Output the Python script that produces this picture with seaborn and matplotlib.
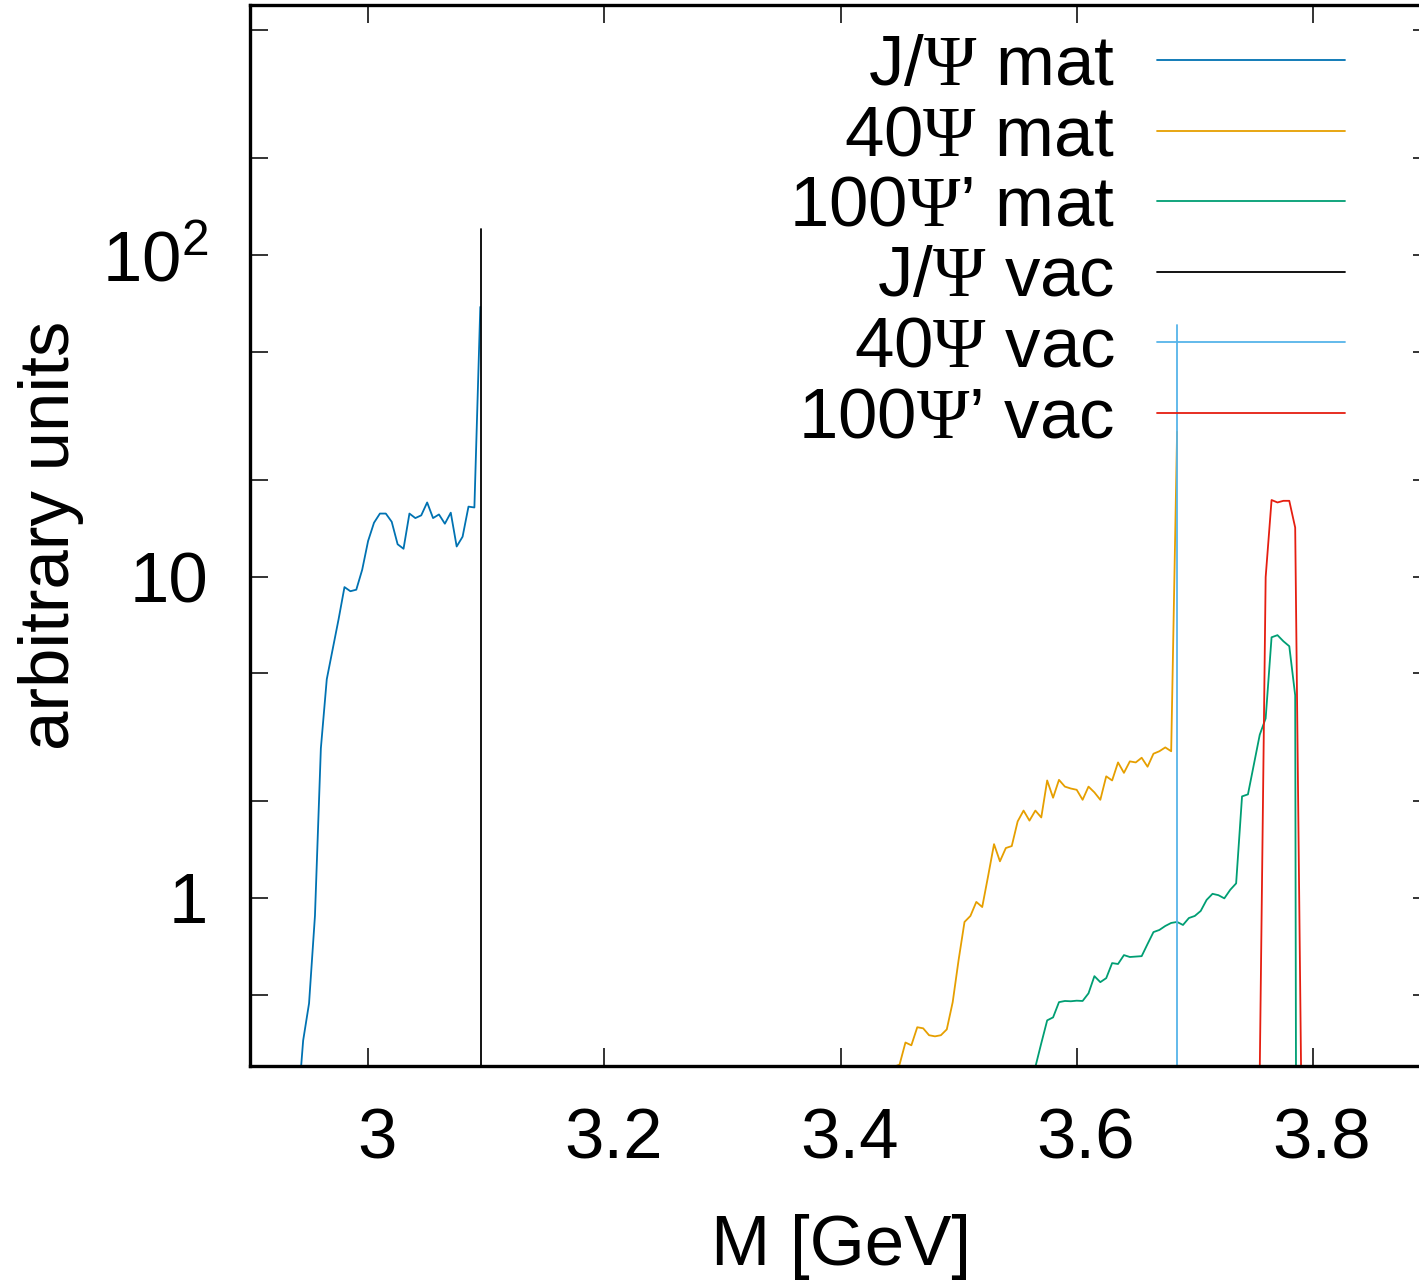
import numpy as np
import pandas as pd
import matplotlib
matplotlib.use("Agg")
import matplotlib.pyplot as plt
import seaborn as sns
from matplotlib.lines import Line2D
from matplotlib.ticker import FixedLocator, FixedFormatter, NullLocator
import matplotlib.transforms as mtransforms

# ---------------- data ----------------
series_names = ["J/$\\mathrm{\\Psi}$ mat", "40$\\mathrm{\\Psi}$ mat", "100$\\mathrm{\\Psi}$\u2019 mat",
                "J/$\\mathrm{\\Psi}$ vac", "40$\\mathrm{\\Psi}$ vac", "100$\\mathrm{\\Psi}$\u2019 vac"]
series_colors = ["#0072B2", "#E69F00", "#009E73", "#000000", "#56B4E9", "#E51E10"]

jpsi_mat_m = [2.940, 2.945, 2.950, 2.955, 2.960, 2.965, 2.970, 2.975, 2.980, 2.985,
              2.990, 2.995, 3.000, 3.005, 3.010, 3.015, 3.020, 3.025, 3.030, 3.035,
              3.040, 3.045, 3.050, 3.055, 3.060, 3.065, 3.070, 3.075, 3.080, 3.085,
              3.090, 3.095]
jpsi_mat_v = [0.21, 0.36, 0.47, 0.88, 2.92, 4.79, 5.94, 7.36, 9.27, 9.0,
              9.1, 10.5, 12.9, 14.7, 15.7, 15.7, 14.8, 12.6, 12.2, 15.7,
              15.2, 15.5, 17.0, 15.2, 15.6, 14.6, 15.8, 12.4, 13.3, 16.5,
              16.4, 69.0]

psi40_mat_m = [3.440, 3.445, 3.450, 3.455, 3.460, 3.465, 3.470, 3.475, 3.480, 3.485,
               3.490, 3.495, 3.500, 3.505, 3.510, 3.515, 3.520, 3.525, 3.530, 3.535,
               3.540, 3.545, 3.550, 3.555, 3.560, 3.565, 3.570, 3.575, 3.580, 3.585,
               3.590, 3.595, 3.600, 3.605, 3.610, 3.615, 3.620, 3.625, 3.630, 3.635,
               3.640, 3.645, 3.650, 3.655, 3.660, 3.665, 3.670, 3.675, 3.680, 3.685]
psi40_mat_v = [0.22, 0.298, 0.303, 0.355, 0.348, 0.396, 0.393, 0.374, 0.371, 0.374,
               0.390, 0.474, 0.641, 0.842, 0.879, 0.972, 0.937, 1.17, 1.47, 1.30,
               1.43, 1.45, 1.73, 1.87, 1.74, 1.87, 1.78, 2.32, 2.05, 2.33,
               2.22, 2.19, 2.17, 2.02, 2.22, 2.13, 2.02, 2.39, 2.32, 2.64,
               2.45, 2.66, 2.64, 2.73, 2.56, 2.81, 2.86, 2.94, 2.86, 28.2]

psi100_mat_m = [3.555, 3.560, 3.565, 3.570, 3.575, 3.580, 3.585, 3.590, 3.595, 3.600,
                3.605, 3.610, 3.615, 3.620, 3.625, 3.630, 3.635, 3.640, 3.645, 3.650,
                3.655, 3.660, 3.665, 3.670, 3.675, 3.680, 3.685, 3.690, 3.695, 3.700,
                3.705, 3.710, 3.715, 3.720, 3.725, 3.730, 3.735, 3.740, 3.745, 3.750,
                3.755, 3.760, 3.765, 3.770, 3.775, 3.780, 3.785, 3.790]
psi100_mat_v = [0.25, 0.300, 0.298, 0.353, 0.416, 0.425, 0.474, 0.478, 0.477, 0.479,
                0.478, 0.505, 0.571, 0.547, 0.563, 0.627, 0.623, 0.664, 0.655, 0.657,
                0.659, 0.719, 0.783, 0.795, 0.818, 0.836, 0.842, 0.824, 0.866, 0.879,
                0.911, 0.986, 1.03, 1.02, 0.997, 1.06, 1.11, 2.07, 2.10, 2.60,
                3.22, 3.62, 6.47, 6.57, 6.29, 6.07, 4.27, 1e-8]

jpsi_vac_m = [3.096, 3.096]
jpsi_vac_v = [0.01, 121.0]

psi40_vac_m = [3.685, 3.685]
psi40_vac_v = [0.01, 60.4]

psi100_vac_m = [3.750, 3.755, 3.760, 3.765, 3.770, 3.775, 3.780, 3.785, 3.790, 3.795]
psi100_vac_v = [0.05, 0.29, 9.96, 17.3, 17.0, 17.2, 17.2, 14.2, 0.29, 0.05]

x_ticks = [3.0, 3.2, 3.4, 3.6, 3.8]
x_tick_labels = ["3", "3.2", "3.4", "3.6", "3.8"]
y_ticks = [0.5, 1, 2, 5, 10, 20, 50, 100, 200, 500]
y_tick_labels = ["", "1", "", "", "10", "", "", "$\\mathsf{10^2}$", "", ""]
x_label = "M [GeV]"
y_label = "arbitrary units"

# ---------------- frame ----------------
all_m = [jpsi_mat_m, psi40_mat_m, psi100_mat_m, jpsi_vac_m, psi40_vac_m, psi100_vac_m]
all_v = [jpsi_mat_v, psi40_mat_v, psi100_mat_v, jpsi_vac_v, psi40_vac_v, psi100_vac_v]
frames = []
for name, m, v in zip(series_names, all_m, all_v):
    frames.append(pd.DataFrame({"M": m, "value": v, "series": name}))
df = pd.concat(frames, ignore_index=True)

sns.set_theme(style="white")
plt.rcParams["font.family"] = ["Liberation Sans", "DejaVu Sans"]
plt.rcParams["mathtext.fontset"] = "custom"
plt.rcParams["mathtext.rm"] = "Liberation Serif"
plt.rcParams["mathtext.sf"] = "Liberation Sans"
plt.rcParams["mathtext.it"] = "Liberation Sans:italic"
plt.rcParams["mathtext.bf"] = "Liberation Sans:bold"
plt.rcParams["text.color"] = "black"
plt.rcParams["axes.labelcolor"] = "black"
plt.rcParams["xtick.labelcolor"] = "black"
plt.rcParams["ytick.labelcolor"] = "black"

FS = 51
W, H = 1419, 1284
fig = plt.figure(figsize=(W / 100, H / 100), dpi=100)
ax = fig.add_axes([250 / W, 1 - 1066 / H, (1431 - 250) / W, (1066 - 5) / H])

sns.lineplot(data=df, x="M", y="value", hue="series", hue_order=series_names,
             palette=dict(zip(series_names, series_colors)), estimator=None,
             sort=False, legend=False, ax=ax, linewidth=1.3)

ax.set_yscale("log")
ax.set_xlim(2.9, 3.9)
ax.set_ylim(0.3, 600)

ax.xaxis.set_major_locator(FixedLocator(x_ticks))
ax.xaxis.set_major_formatter(FixedFormatter(x_tick_labels))
ax.xaxis.set_minor_locator(NullLocator())
ax.yaxis.set_major_locator(FixedLocator(y_ticks))
ax.yaxis.set_major_formatter(FixedFormatter(y_tick_labels))
ax.yaxis.set_minor_locator(NullLocator())

ax.tick_params(axis="both", which="major", direction="in", length=13, width=1.4,
               color="#333333", labelcolor="black", labelsize=FS, top=True, right=True,
               bottom=True, left=True)
ax.tick_params(axis="x", pad=30)
ax.tick_params(axis="y", pad=30)
for s in ax.spines.values():
    s.set_linewidth(2.4)
    s.set_color("black")

ax.set_xlabel(x_label, fontsize=FS, labelpad=29, color="black")
ax.set_ylabel(y_label, fontsize=FS, labelpad=13, color="black")

offset = mtransforms.ScaledTranslation(9 / 100, 0, fig.dpi_scale_trans)
for lab in ax.get_xticklabels():
    lab.set_transform(lab.get_transform() + offset)

handles = [Line2D([], [], color=c, lw=1.3) for c in series_colors]
leg = ax.legend(handles, series_names, loc="upper right", markerfirst=False,
                frameon=False, fontsize=FS, handlelength=2.65, handletextpad=0.6,
                labelspacing=0.063, borderaxespad=0, borderpad=0,
                bbox_to_anchor=((1345 - 250) / 1181, 1 - (34 - 5) / 1061))
for t in leg.get_texts():
    t.set_color("black")

fig.savefig("out.png", dpi=100)
